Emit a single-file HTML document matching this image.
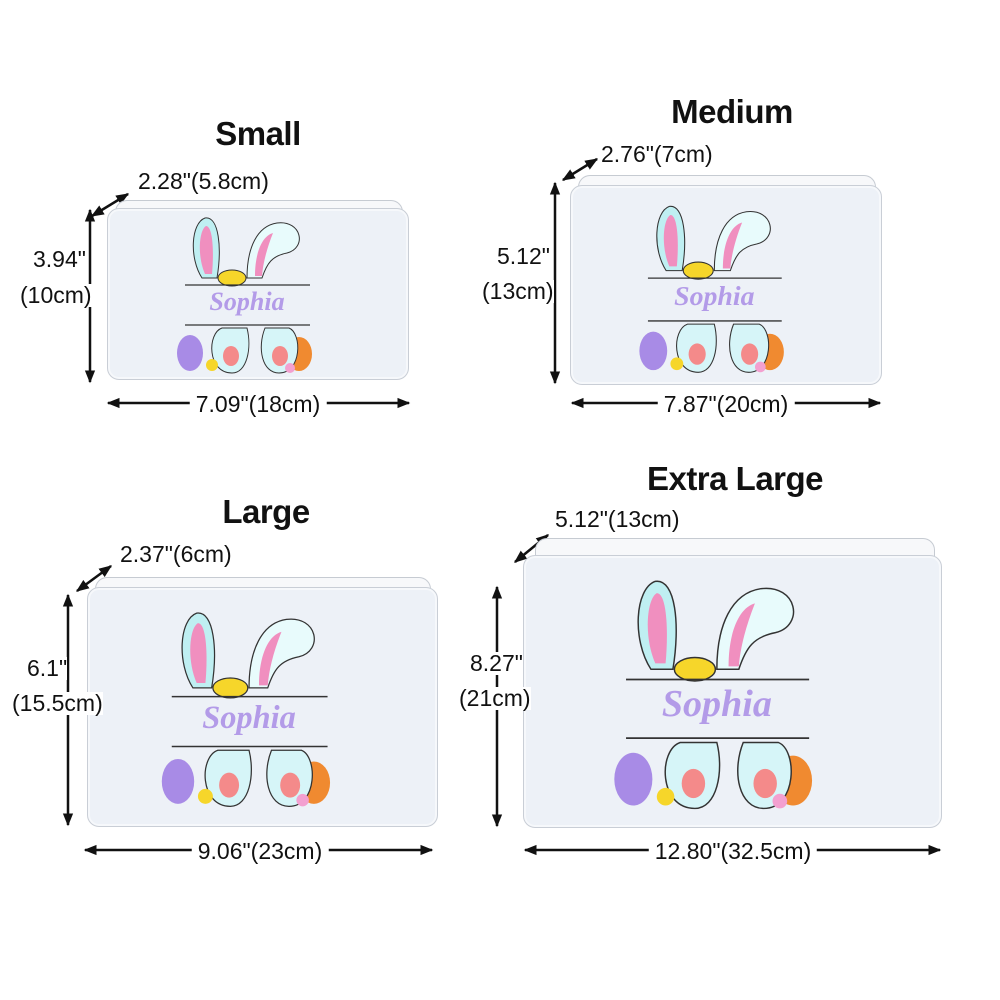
<!DOCTYPE html>
<html><head><meta charset="utf-8">
<style>
body{margin:0;width:1000px;height:1000px;background:#fff;position:relative;overflow:hidden;font-family:"Liberation Sans",Arial,sans-serif;color:#111}
.t{position:absolute;font-weight:bold;font-size:33px;transform:translateX(-50%);white-space:nowrap;letter-spacing:-0.5px}
.l{position:absolute;font-size:23px;white-space:nowrap;line-height:1;background:#fff;z-index:5}
.c{transform:translateX(-50%);padding:0 6px}
.box{position:absolute;background:#edf1f7;border:1.5px solid #c9ced6;border-radius:12px;box-shadow:inset 0 0 0 2px #f6f8fb}
.lid{position:absolute;border:1.5px solid #c6cbd2;border-bottom:none;border-radius:12px 12px 0 0;background:#f7f8fa}
svg.a{position:absolute;left:0;top:0}
.art{position:absolute}
</style></head><body>
<svg class="a" width="1000" height="1000">
<defs><marker id="ar" viewBox="0 0 10 10" refX="9" refY="5" markerUnits="userSpaceOnUse" markerWidth="13" markerHeight="13" orient="auto-start-reverse"><path d="M0,1 L10,5 L0,9 z" fill="#111"/></marker></defs>
<g stroke="#111" stroke-width="2.5" fill="none" marker-start="url(#ar)" marker-end="url(#ar)">
<line x1="92" y1="216" x2="128" y2="194"/>
<line x1="90" y1="210" x2="90" y2="382"/>
<line x1="108" y1="403" x2="409" y2="403"/>
<line x1="563" y1="180" x2="597" y2="159"/>
<line x1="555" y1="183" x2="555" y2="383"/>
<line x1="572" y1="403" x2="880" y2="403"/>
<line x1="77" y1="591" x2="111" y2="566"/>
<line x1="68" y1="595" x2="68" y2="825"/>
<line x1="85" y1="850" x2="432" y2="850"/>
<line x1="515" y1="562" x2="548" y2="535"/>
<line x1="497" y1="587" x2="497" y2="826"/>
<line x1="525" y1="850" x2="940" y2="850"/>
</g></svg>

<div class="t" style="left:258px;top:115px">Small</div>
<div class="t" style="left:732px;top:93px">Medium</div>
<div class="t" style="left:266px;top:493px">Large</div>
<div class="t" style="left:735px;top:460px">Extra Large</div>

<div class="l" style="left:138px;top:170px">2.28"(5.8cm)</div>
<div class="l" style="left:33px;top:248px">3.94"</div>
<div class="l" style="left:20px;top:284px">(10cm)</div>
<div class="l c" style="left:258px;top:393px">7.09"(18cm)</div>

<div class="l" style="left:601px;top:143px">2.76"(7cm)</div>
<div class="l" style="left:497px;top:245px">5.12"</div>
<div class="l" style="left:482px;top:280px">(13cm)</div>
<div class="l c" style="left:726px;top:393px">7.87"(20cm)</div>

<div class="l" style="left:120px;top:543px">2.37"(6cm)</div>
<div class="l" style="left:27px;top:657px">6.1"</div>
<div class="l" style="left:12px;top:692px">(15.5cm)</div>
<div class="l c" style="left:260px;top:840px">9.06"(23cm)</div>

<div class="l" style="left:555px;top:508px">5.12"(13cm)</div>
<div class="l" style="left:470px;top:652px">8.27"</div>
<div class="l" style="left:459px;top:687px">(21cm)</div>
<div class="l c" style="left:733px;top:840px">12.80"(32.5cm)</div>

<div class="lid" style="left:115px;top:200px;width:286px;height:14px"></div>
<div class="box" style="left:107px;top:208px;width:300px;height:170px"></div>
<div class="lid" style="left:578px;top:175px;width:296px;height:14px"></div>
<div class="box" style="left:570px;top:185px;width:310px;height:198px"></div>
<div class="lid" style="left:95px;top:577px;width:334px;height:14px"></div>
<div class="box" style="left:87px;top:587px;width:349px;height:238px"></div>
<div class="lid" style="left:535px;top:538px;width:398px;height:22px"></div>
<div class="box" style="left:523px;top:555px;width:417px;height:271px"></div>

<svg class="art" style="left:107px;top:208px" width="300" height="170" viewBox="0 0 300 170">
<g id="g1">
<path d="M95,70 C82,50 84,15 98,10 C112,8 115,40 110,70 Z" fill="#bfeff2" stroke="#333" stroke-width="1"/>
<path d="M98,66 C90,48 92,22 99,18 C106,18 107,45 105,66 Z" fill="#f08fbf"/>
<path d="M140,70 C140,40 150,18 170,15 C195,12 200,40 180,45 C165,48 160,55 155,70 Z" fill="#e8fbfc" stroke="#333" stroke-width="1"/>
<path d="M148,68 C148,45 155,28 166,25 C160,40 156,55 155,68 Z" fill="#f08fbf"/>
<ellipse cx="125" cy="70" rx="14" ry="8" fill="#f6d62a" stroke="#333" stroke-width="1"/>
<line x1="78" y1="77" x2="203" y2="77" stroke="#333" stroke-width="1.2"/>
<line x1="78" y1="117" x2="203" y2="117" stroke="#333" stroke-width="1.2"/>
<ellipse cx="83" cy="145" rx="13" ry="18" fill="#a88be6"/>
<ellipse cx="192" cy="146" rx="13" ry="17" fill="#f08a30"/>
<path d="M115,120 C100,125 100,165 125,165 C140,165 145,140 140,120 Z" fill="#d6f5f8" stroke="#333" stroke-width="1"/>
<path d="M158,120 C150,140 155,165 172,165 C195,165 195,125 182,120 Z" fill="#d6f5f8" stroke="#333" stroke-width="1"/>
<ellipse cx="124" cy="148" rx="8" ry="10" fill="#f48a8a"/>
<ellipse cx="173" cy="148" rx="8" ry="10" fill="#f48a8a"/>
<circle cx="105" cy="157" r="6" fill="#f6d62a"/>
<circle cx="183" cy="160" r="5" fill="#f3a0d0"/>
</g>
<text x="140" y="102" text-anchor="middle" font-family="Liberation Serif,serif" font-style="italic" font-weight="bold" font-size="26" fill="#b39be8">Sophia</text></svg>
<svg class="art" style="left:570px;top:185px" width="310" height="198" viewBox="10 -10 280 185"><use href="#g1"/><text x="140" y="102" text-anchor="middle" font-family="Liberation Serif,serif" font-style="italic" font-weight="bold" font-size="26" fill="#b39be8">Sophia</text></svg>
<svg class="art" style="left:87px;top:587px" width="349" height="238" viewBox="10 -8 280 185"><use href="#g1"/><text x="140" y="102" text-anchor="middle" font-family="Liberation Serif,serif" font-style="italic" font-weight="bold" font-size="26" fill="#b39be8">Sophia</text></svg>
<svg class="art" style="left:523px;top:555px" width="417" height="271" viewBox="10 -8 280 185"><use href="#g1"/><text x="140" y="102" text-anchor="middle" font-family="Liberation Serif,serif" font-style="italic" font-weight="bold" font-size="26" fill="#b39be8">Sophia</text></svg>
</body></html>
